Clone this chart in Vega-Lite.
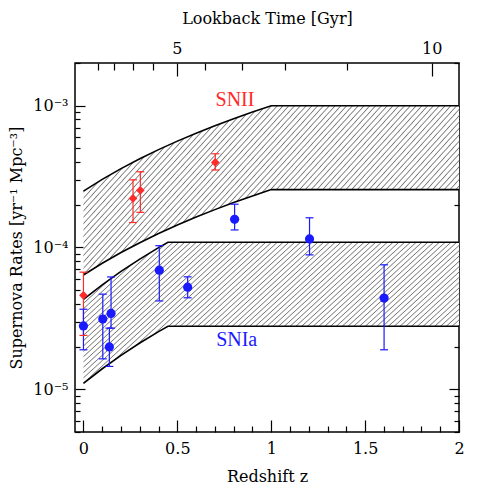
{
"$schema": "https://vega.github.io/schema/vega-lite/v6.json",
"width": 384,
"height": 369,
"autosize": {"type": "none"},
"padding": {"left": 75, "top": 63, "right": 26, "bottom": 53},
"background": "white",
"config": {
  "view": {"stroke": "black", "strokeWidth": 1.5},
  "font": "DejaVu Serif",
  "axis": {"grid": false, "domain": false, "labelFont": "DejaVu Serif", "labelFontSize": 16, "labelColor": "black", "titleFont": "DejaVu Serif", "titleFontSize": 16, "titleFontWeight": "normal", "titleColor": "black", "tickColor": "black", "tickWidth": 1.2, "labelOverlap": false, "labelFlush": false}
},
"datasets": {
  "bands": [
    {"band":"SNII","z":0,"lo":0.000064,"hi":0.00025},
    {"band":"SNII","z":0.1,"lo":0.00007744,"hi":0.0003025},
    {"band":"SNII","z":0.2,"lo":0.00009216,"hi":0.00036},
    {"band":"SNII","z":0.3,"lo":0.00010816,"hi":0.0004225},
    {"band":"SNII","z":0.4,"lo":0.00012544,"hi":0.00049},
    {"band":"SNII","z":0.5,"lo":0.000144,"hi":0.0005625},
    {"band":"SNII","z":0.6,"lo":0.00016384,"hi":0.00064},
    {"band":"SNII","z":0.7,"lo":0.00018496,"hi":0.0007225},
    {"band":"SNII","z":0.8,"lo":0.00020736,"hi":0.00081},
    {"band":"SNII","z":0.9,"lo":0.00023104,"hi":0.0009025},
    {"band":"SNII","z":1,"lo":0.000256,"hi":0.001},
    {"band":"SNII","z":2,"lo":0.000256,"hi":0.001},
    {"band":"SNIa","z":0,"lo":0.000011,"hi":0.000043},
    {"band":"SNIa","z":0.1,"lo":0.00001396,"hi":0.00005457},
    {"band":"SNIa","z":0.2,"lo":0.00001735,"hi":0.00006783},
    {"band":"SNIa","z":0.3,"lo":0.0000212,"hi":0.00008286},
    {"band":"SNIa","z":0.4,"lo":0.00002551,"hi":0.00009972},
    {"band":"SNIa","z":0.45,"lo":0.00002785,"hi":0.00010887},
    {"band":"SNIa","z":2,"lo":0.00002785,"hi":0.00010887}
  ],
  "points": [
    {"type":"SNII","z":0,"rate":0.000046,"lo":0.000024,"hi":0.000067},
    {"type":"SNII","z":0.264,"rate":0.000222,"lo":0.00015,"hi":0.0003},
    {"type":"SNII","z":0.303,"rate":0.000253,"lo":0.000177,"hi":0.000342},
    {"type":"SNII","z":0.702,"rate":0.000398,"lo":0.000352,"hi":0.000458},
    {"type":"SNIa","z":0,"rate":0.000028,"lo":0.000019,"hi":0.0000367},
    {"type":"SNIa","z":0.103,"rate":0.0000313,"lo":0.0000164,"hi":0.0000469},
    {"type":"SNIa","z":0.138,"rate":0.0000199,"lo":0.0000145,"hi":0.000027},
    {"type":"SNIa","z":0.147,"rate":0.0000343,"lo":0.000027,"hi":0.000062},
    {"type":"SNIa","z":0.404,"rate":0.0000692,"lo":0.000042,"hi":0.000103},
    {"type":"SNIa","z":0.555,"rate":0.0000525,"lo":0.0000442,"hi":0.0000621},
    {"type":"SNIa","z":0.805,"rate":0.000158,"lo":0.000133,"hi":0.000202},
    {"type":"SNIa","z":1.204,"rate":0.000115,"lo":0.0000887,"hi":0.000162},
    {"type":"SNIa","z":1.601,"rate":0.000044,"lo":0.000019,"hi":0.0000755}
  ],
  "labels": [
    {"type":"SNII","label":"SNII","z":0.807,"rate":0.001},
    {"type":"SNIa","label":"SNIa","z":0.816,"rate":0.0000202}
  ]
},
"layer": [
  {
    "encoding": {
      "x": {"field":"z","type":"quantitative","title":"Redshift z",
        "scale":{"domain":[-0.045,2],"nice":false,"zero":false},
        "axis":{"orient":"bottom","title":"Redshift z","values":[0,0.1,0.2,0.3,0.4,0.5,0.6,0.7,0.8,0.9,1,1.1,1.2,1.3,1.4,1.5,1.6,1.7,1.8,1.9,2],"format":"~g",
          "labelExpr":"indexof([0,0.5,1,1.5,2], datum.value) >= 0 ? datum.label : ''",
          "tickSize":{"condition":{"test":"indexof([0,0.5,1,1.5,2], datum.value) >= 0","value":-12},"value":-6},
          "labelPadding":20,"titlePadding":6}}
    },
    "layer": [
      {
        "data": {"name":"bands"},
        "mark": {"type":"area","stroke":null,"fill":{"gradient":"linear","x1":0,"y1":0,"x2":1.32,"y2":0.54,"stops":[
{"offset":0.003,"color":"#fff"},{"offset":0.005,"color":"#777"},{"offset":0.007,"color":"#fff"},
{"offset":0.013,"color":"#fff"},{"offset":0.015,"color":"#777"},{"offset":0.017,"color":"#fff"},
{"offset":0.023,"color":"#fff"},{"offset":0.025,"color":"#777"},{"offset":0.027,"color":"#fff"},
{"offset":0.033,"color":"#fff"},{"offset":0.035,"color":"#777"},{"offset":0.037,"color":"#fff"},
{"offset":0.043,"color":"#fff"},{"offset":0.045,"color":"#777"},{"offset":0.047,"color":"#fff"},
{"offset":0.053,"color":"#fff"},{"offset":0.055,"color":"#777"},{"offset":0.057,"color":"#fff"},
{"offset":0.063,"color":"#fff"},{"offset":0.065,"color":"#777"},{"offset":0.067,"color":"#fff"},
{"offset":0.073,"color":"#fff"},{"offset":0.075,"color":"#777"},{"offset":0.077,"color":"#fff"},
{"offset":0.083,"color":"#fff"},{"offset":0.085,"color":"#777"},{"offset":0.087,"color":"#fff"},
{"offset":0.093,"color":"#fff"},{"offset":0.095,"color":"#777"},{"offset":0.097,"color":"#fff"},
{"offset":0.103,"color":"#fff"},{"offset":0.105,"color":"#777"},{"offset":0.107,"color":"#fff"},
{"offset":0.113,"color":"#fff"},{"offset":0.115,"color":"#777"},{"offset":0.117,"color":"#fff"},
{"offset":0.123,"color":"#fff"},{"offset":0.125,"color":"#777"},{"offset":0.127,"color":"#fff"},
{"offset":0.133,"color":"#fff"},{"offset":0.135,"color":"#777"},{"offset":0.137,"color":"#fff"},
{"offset":0.143,"color":"#fff"},{"offset":0.145,"color":"#777"},{"offset":0.147,"color":"#fff"},
{"offset":0.153,"color":"#fff"},{"offset":0.155,"color":"#777"},{"offset":0.157,"color":"#fff"},
{"offset":0.163,"color":"#fff"},{"offset":0.165,"color":"#777"},{"offset":0.167,"color":"#fff"},
{"offset":0.173,"color":"#fff"},{"offset":0.175,"color":"#777"},{"offset":0.177,"color":"#fff"},
{"offset":0.183,"color":"#fff"},{"offset":0.185,"color":"#777"},{"offset":0.187,"color":"#fff"},
{"offset":0.193,"color":"#fff"},{"offset":0.195,"color":"#777"},{"offset":0.197,"color":"#fff"},
{"offset":0.203,"color":"#fff"},{"offset":0.205,"color":"#777"},{"offset":0.207,"color":"#fff"},
{"offset":0.213,"color":"#fff"},{"offset":0.215,"color":"#777"},{"offset":0.217,"color":"#fff"},
{"offset":0.223,"color":"#fff"},{"offset":0.225,"color":"#777"},{"offset":0.227,"color":"#fff"},
{"offset":0.233,"color":"#fff"},{"offset":0.235,"color":"#777"},{"offset":0.237,"color":"#fff"},
{"offset":0.243,"color":"#fff"},{"offset":0.245,"color":"#777"},{"offset":0.247,"color":"#fff"},
{"offset":0.253,"color":"#fff"},{"offset":0.255,"color":"#777"},{"offset":0.257,"color":"#fff"},
{"offset":0.263,"color":"#fff"},{"offset":0.265,"color":"#777"},{"offset":0.267,"color":"#fff"},
{"offset":0.273,"color":"#fff"},{"offset":0.275,"color":"#777"},{"offset":0.277,"color":"#fff"},
{"offset":0.283,"color":"#fff"},{"offset":0.285,"color":"#777"},{"offset":0.287,"color":"#fff"},
{"offset":0.293,"color":"#fff"},{"offset":0.295,"color":"#777"},{"offset":0.297,"color":"#fff"},
{"offset":0.303,"color":"#fff"},{"offset":0.305,"color":"#777"},{"offset":0.307,"color":"#fff"},
{"offset":0.313,"color":"#fff"},{"offset":0.315,"color":"#777"},{"offset":0.317,"color":"#fff"},
{"offset":0.323,"color":"#fff"},{"offset":0.325,"color":"#777"},{"offset":0.327,"color":"#fff"},
{"offset":0.333,"color":"#fff"},{"offset":0.335,"color":"#777"},{"offset":0.337,"color":"#fff"},
{"offset":0.343,"color":"#fff"},{"offset":0.345,"color":"#777"},{"offset":0.347,"color":"#fff"},
{"offset":0.353,"color":"#fff"},{"offset":0.355,"color":"#777"},{"offset":0.357,"color":"#fff"},
{"offset":0.363,"color":"#fff"},{"offset":0.365,"color":"#777"},{"offset":0.367,"color":"#fff"},
{"offset":0.373,"color":"#fff"},{"offset":0.375,"color":"#777"},{"offset":0.377,"color":"#fff"},
{"offset":0.383,"color":"#fff"},{"offset":0.385,"color":"#777"},{"offset":0.387,"color":"#fff"},
{"offset":0.393,"color":"#fff"},{"offset":0.395,"color":"#777"},{"offset":0.397,"color":"#fff"},
{"offset":0.403,"color":"#fff"},{"offset":0.405,"color":"#777"},{"offset":0.407,"color":"#fff"},
{"offset":0.413,"color":"#fff"},{"offset":0.415,"color":"#777"},{"offset":0.417,"color":"#fff"},
{"offset":0.423,"color":"#fff"},{"offset":0.425,"color":"#777"},{"offset":0.427,"color":"#fff"},
{"offset":0.433,"color":"#fff"},{"offset":0.435,"color":"#777"},{"offset":0.437,"color":"#fff"},
{"offset":0.443,"color":"#fff"},{"offset":0.445,"color":"#777"},{"offset":0.447,"color":"#fff"},
{"offset":0.453,"color":"#fff"},{"offset":0.455,"color":"#777"},{"offset":0.457,"color":"#fff"},
{"offset":0.463,"color":"#fff"},{"offset":0.465,"color":"#777"},{"offset":0.467,"color":"#fff"},
{"offset":0.473,"color":"#fff"},{"offset":0.475,"color":"#777"},{"offset":0.477,"color":"#fff"},
{"offset":0.483,"color":"#fff"},{"offset":0.485,"color":"#777"},{"offset":0.487,"color":"#fff"},
{"offset":0.493,"color":"#fff"},{"offset":0.495,"color":"#777"},{"offset":0.497,"color":"#fff"},
{"offset":0.503,"color":"#fff"},{"offset":0.505,"color":"#777"},{"offset":0.507,"color":"#fff"},
{"offset":0.513,"color":"#fff"},{"offset":0.515,"color":"#777"},{"offset":0.517,"color":"#fff"},
{"offset":0.523,"color":"#fff"},{"offset":0.525,"color":"#777"},{"offset":0.527,"color":"#fff"},
{"offset":0.533,"color":"#fff"},{"offset":0.535,"color":"#777"},{"offset":0.537,"color":"#fff"},
{"offset":0.543,"color":"#fff"},{"offset":0.545,"color":"#777"},{"offset":0.547,"color":"#fff"},
{"offset":0.553,"color":"#fff"},{"offset":0.555,"color":"#777"},{"offset":0.557,"color":"#fff"},
{"offset":0.563,"color":"#fff"},{"offset":0.565,"color":"#777"},{"offset":0.567,"color":"#fff"},
{"offset":0.573,"color":"#fff"},{"offset":0.575,"color":"#777"},{"offset":0.577,"color":"#fff"},
{"offset":0.583,"color":"#fff"},{"offset":0.585,"color":"#777"},{"offset":0.587,"color":"#fff"},
{"offset":0.593,"color":"#fff"},{"offset":0.595,"color":"#777"},{"offset":0.597,"color":"#fff"},
{"offset":0.603,"color":"#fff"},{"offset":0.605,"color":"#777"},{"offset":0.607,"color":"#fff"},
{"offset":0.613,"color":"#fff"},{"offset":0.615,"color":"#777"},{"offset":0.617,"color":"#fff"},
{"offset":0.623,"color":"#fff"},{"offset":0.625,"color":"#777"},{"offset":0.627,"color":"#fff"},
{"offset":0.633,"color":"#fff"},{"offset":0.635,"color":"#777"},{"offset":0.637,"color":"#fff"},
{"offset":0.643,"color":"#fff"},{"offset":0.645,"color":"#777"},{"offset":0.647,"color":"#fff"},
{"offset":0.653,"color":"#fff"},{"offset":0.655,"color":"#777"},{"offset":0.657,"color":"#fff"},
{"offset":0.663,"color":"#fff"},{"offset":0.665,"color":"#777"},{"offset":0.667,"color":"#fff"},
{"offset":0.673,"color":"#fff"},{"offset":0.675,"color":"#777"},{"offset":0.677,"color":"#fff"},
{"offset":0.683,"color":"#fff"},{"offset":0.685,"color":"#777"},{"offset":0.687,"color":"#fff"},
{"offset":0.693,"color":"#fff"},{"offset":0.695,"color":"#777"},{"offset":0.697,"color":"#fff"},
{"offset":0.703,"color":"#fff"},{"offset":0.705,"color":"#777"},{"offset":0.707,"color":"#fff"},
{"offset":0.713,"color":"#fff"},{"offset":0.715,"color":"#777"},{"offset":0.717,"color":"#fff"},
{"offset":0.723,"color":"#fff"},{"offset":0.725,"color":"#777"},{"offset":0.727,"color":"#fff"},
{"offset":0.733,"color":"#fff"},{"offset":0.735,"color":"#777"},{"offset":0.737,"color":"#fff"},
{"offset":0.743,"color":"#fff"},{"offset":0.745,"color":"#777"},{"offset":0.747,"color":"#fff"},
{"offset":0.753,"color":"#fff"},{"offset":0.755,"color":"#777"},{"offset":0.757,"color":"#fff"},
{"offset":0.763,"color":"#fff"},{"offset":0.765,"color":"#777"},{"offset":0.767,"color":"#fff"},
{"offset":0.773,"color":"#fff"},{"offset":0.775,"color":"#777"},{"offset":0.777,"color":"#fff"},
{"offset":0.783,"color":"#fff"},{"offset":0.785,"color":"#777"},{"offset":0.787,"color":"#fff"},
{"offset":0.793,"color":"#fff"},{"offset":0.795,"color":"#777"},{"offset":0.797,"color":"#fff"},
{"offset":0.803,"color":"#fff"},{"offset":0.805,"color":"#777"},{"offset":0.807,"color":"#fff"},
{"offset":0.813,"color":"#fff"},{"offset":0.815,"color":"#777"},{"offset":0.817,"color":"#fff"},
{"offset":0.823,"color":"#fff"},{"offset":0.825,"color":"#777"},{"offset":0.827,"color":"#fff"},
{"offset":0.833,"color":"#fff"},{"offset":0.835,"color":"#777"},{"offset":0.837,"color":"#fff"},
{"offset":0.843,"color":"#fff"},{"offset":0.845,"color":"#777"},{"offset":0.847,"color":"#fff"},
{"offset":0.853,"color":"#fff"},{"offset":0.855,"color":"#777"},{"offset":0.857,"color":"#fff"},
{"offset":0.863,"color":"#fff"},{"offset":0.865,"color":"#777"},{"offset":0.867,"color":"#fff"},
{"offset":0.873,"color":"#fff"},{"offset":0.875,"color":"#777"},{"offset":0.877,"color":"#fff"},
{"offset":0.883,"color":"#fff"},{"offset":0.885,"color":"#777"},{"offset":0.887,"color":"#fff"},
{"offset":0.893,"color":"#fff"},{"offset":0.895,"color":"#777"},{"offset":0.897,"color":"#fff"},
{"offset":0.903,"color":"#fff"},{"offset":0.905,"color":"#777"},{"offset":0.907,"color":"#fff"},
{"offset":0.913,"color":"#fff"},{"offset":0.915,"color":"#777"},{"offset":0.917,"color":"#fff"},
{"offset":0.923,"color":"#fff"},{"offset":0.925,"color":"#777"},{"offset":0.927,"color":"#fff"},
{"offset":0.933,"color":"#fff"},{"offset":0.935,"color":"#777"},{"offset":0.937,"color":"#fff"},
{"offset":0.943,"color":"#fff"},{"offset":0.945,"color":"#777"},{"offset":0.947,"color":"#fff"},
{"offset":0.953,"color":"#fff"},{"offset":0.955,"color":"#777"},{"offset":0.957,"color":"#fff"},
{"offset":0.963,"color":"#fff"},{"offset":0.965,"color":"#777"},{"offset":0.967,"color":"#fff"},
{"offset":0.973,"color":"#fff"},{"offset":0.975,"color":"#777"},{"offset":0.977,"color":"#fff"},
{"offset":0.983,"color":"#fff"},{"offset":0.985,"color":"#777"},{"offset":0.987,"color":"#fff"},
{"offset":0.993,"color":"#fff"},{"offset":0.995,"color":"#777"},{"offset":0.997,"color":"#fff"}
]}},
        "encoding": {
          "y": {"field":"lo","type":"quantitative","title":"Supernova Rates [yr⁻¹ Mpc⁻³]",
            "scale":{"type":"log","domain":[0.000005,0.002],"nice":false},
            "axis":{"orient":"left","title":"Supernova Rates [yr⁻¹ Mpc⁻³]",
              "values":[0.000005,0.000006,0.000007,0.000008,0.000009,0.00001,0.00002,0.00003,0.00004,0.00005,0.00006,0.00007,0.00008,0.00009,0.0001,0.0002,0.0003,0.0004,0.0005,0.0006,0.0007,0.0008,0.0009,0.001,0.002],
              "labelExpr":"datum.value == 0.001 ? '10⁻³' : datum.value == 0.0001 ? '10⁻⁴' : datum.value == 0.00001 ? '10⁻⁵' : ''",
              "tickSize":{"condition":{"test":"datum.value == 0.001 || datum.value == 0.0001 || datum.value == 0.00001","value":-10},"value":-5},
              "labelPadding":17,"titlePadding":8}},
          "y2": {"field":"hi"},
          "detail": {"field":"band","type":"nominal"}
        }
      },
      {
        "data": {"name":"bands"},
        "mark": {"type":"line","color":"black","strokeWidth":1.6},
        "encoding": {
          "y": {"field":"lo","type":"quantitative","title":"Supernova Rates [yr⁻¹ Mpc⁻³]","scale":{"type":"log","domain":[0.000005,0.002],"nice":false}},
          "detail": {"field":"band","type":"nominal"}
        }
      },
      {
        "data": {"name":"bands"},
        "mark": {"type":"line","color":"black","strokeWidth":1.6},
        "encoding": {
          "y": {"field":"hi","type":"quantitative","title":"Supernova Rates [yr⁻¹ Mpc⁻³]","scale":{"type":"log","domain":[0.000005,0.002],"nice":false}},
          "detail": {"field":"band","type":"nominal"}
        }
      },
      {
        "data": {"name":"points"},
        "mark": {"type":"rule","strokeWidth":1.2},
        "encoding": {
          "y": {"field":"lo","type":"quantitative","title":"Supernova Rates [yr⁻¹ Mpc⁻³]","scale":{"type":"log","domain":[0.000005,0.002],"nice":false}},
          "y2": {"field":"hi"},
          "color": {"field":"type","type":"nominal","scale":{"domain":["SNII","SNIa"],"range":["#ff2a2a","#1a1aff"]},"legend":null}
        }
      },
      {
        "data": {"name":"points"},
        "mark": {"type":"tick","orient":"horizontal","size":8,"thickness":1.2,"opacity":1},
        "encoding": {
          "y": {"field":"lo","type":"quantitative","title":"Supernova Rates [yr⁻¹ Mpc⁻³]","scale":{"type":"log","domain":[0.000005,0.002],"nice":false}},
          "color": {"field":"type","type":"nominal","legend":null}
        }
      },
      {
        "data": {"name":"points"},
        "mark": {"type":"tick","orient":"horizontal","size":8,"thickness":1.2,"opacity":1},
        "encoding": {
          "y": {"field":"hi","type":"quantitative","title":"Supernova Rates [yr⁻¹ Mpc⁻³]","scale":{"type":"log","domain":[0.000005,0.002],"nice":false}},
          "color": {"field":"type","type":"nominal","legend":null}
        }
      },
      {
        "data": {"name":"points"},
        "mark": {"type":"point","filled":true,"opacity":1},
        "encoding": {
          "y": {"field":"rate","type":"quantitative","title":"Supernova Rates [yr⁻¹ Mpc⁻³]","scale":{"type":"log","domain":[0.000005,0.002],"nice":false}},
          "shape": {"field":"type","type":"nominal","scale":{"domain":["SNII","SNIa"],"range":["diamond","circle"]},"legend":null},
          "size": {"field":"type","type":"nominal","scale":{"domain":["SNII","SNIa"],"range":[75,85]},"legend":null},
          "color": {"field":"type","type":"nominal","scale":{"domain":["SNII","SNIa"],"range":["#ff0000","#0000ff"]},"legend":null}
        }
      }
    ]
  },
  {
    "data": {"name":"labels"},
    "mark": {"type":"text","font":"Liberation Serif","fontSize":20,"align":"center","baseline":"alphabetic"},
    "encoding": {
      "x": {"field":"z","type":"quantitative","scale":{"domain":[-0.045,2],"nice":false,"zero":false},
        "axis":{"orient":"top","title":"Lookback Time [Gyr]","values":[0.079,0.164,0.264,0.369,0.497,0.647,0.843,1.073,1.402,1.855],
          "labelExpr":"datum.value == 0.497 ? '5' : datum.value == 1.855 ? '10' : ''",
          "tickSize":{"condition":{"test":"datum.value == 0.497 || datum.value == 1.855","value":-13},"value":-7},
          "labelPadding":20,"titlePadding":8}},
      "y": {"field":"rate","type":"quantitative","scale":{"type":"log","domain":[0.000005,0.002],"nice":false},
        "axis":{"orient":"right","title":null,"labels":false,
          "values":[0.000005,0.000006,0.000007,0.000008,0.000009,0.00001,0.00002,0.00003,0.00004,0.00005,0.00006,0.00007,0.00008,0.00009,0.0001,0.0002,0.0003,0.0004,0.0005,0.0006,0.0007,0.0008,0.0009,0.001,0.002],
          "tickSize":{"condition":{"test":"datum.value == 0.001 || datum.value == 0.0001 || datum.value == 0.00001","value":-10},"value":-5}}},
      "text": {"field":"label"},
      "color": {"field":"type","type":"nominal","legend":null}
    }
  }
],
"resolve": {"axis": {"x":"independent","y":"independent"}}
}
